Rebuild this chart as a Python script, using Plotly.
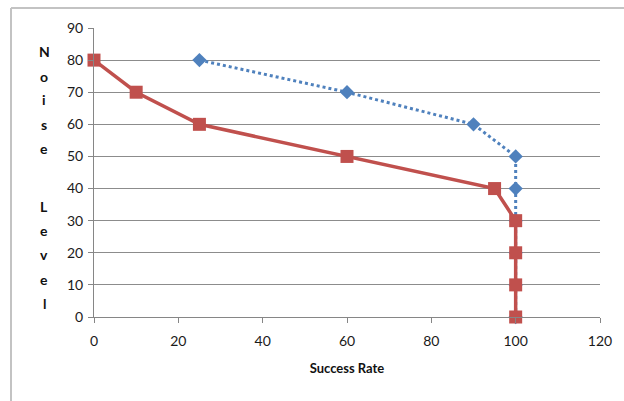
import plotly.graph_objects as go

# Noise level (y) against success rate (x) for two methods
noise_levels = [80, 70, 60, 50, 40, 30, 20, 10, 0]
rate_blue = [25, 60, 90, 100, 100, 100, 100, 100, 100]
rate_red = [0, 10, 25, 60, 95, 100, 100, 100, 100]

x_ticks = [0, 20, 40, 60, 80, 100, 120]
y_ticks = [0, 10, 20, 30, 40, 50, 60, 70, 80, 90]
y_title_letters = ["N", "o", "i", "s", "e", "", "L", "e", "v", "e", "l"]

W, H = 624, 401
L, R, T, B = 94, 24, 28, 84
plot_h = H - T - B
plot_w = W - L - R

fig = go.Figure()
fig.add_trace(go.Scatter(
    x=rate_blue, y=noise_levels, mode="lines+markers",
    line=dict(color="#4F81BD", width=3, dash="dot"),
    marker=dict(symbol="diamond", size=11, color="#4F81BD"),
    showlegend=False, cliponaxis=False,
))
fig.add_trace(go.Scatter(
    x=rate_red, y=noise_levels, mode="lines+markers",
    line=dict(color="#C0504D", width=3.5),
    marker=dict(symbol="square", size=13, color="#C0504D"),
    showlegend=False, cliponaxis=False,
))

font = dict(family="Lato, Open Sans, sans-serif", size=14, color="#1a1a1a")

fig.update_layout(
    width=W, height=H,
    margin=dict(l=L, r=R, t=T, b=B),
    paper_bgcolor="white", plot_bgcolor="white",
    font=font,
    xaxis=dict(
        range=[0, 120], tickvals=x_ticks, ticks="outside", ticklen=5,
        tickcolor="#868686", showline=True, linecolor="#868686", linewidth=1,
        showgrid=False, zeroline=False, ticklabelstandoff=6,
        title=dict(text="<b>Success Rate</b>", font=dict(size=13, family="Lato, sans-serif", color="#111111"), standoff=16),
    ),
    yaxis=dict(
        range=[0, 90], tickvals=y_ticks, ticks="outside", ticklen=5,
        tickcolor="#868686", showline=True, linecolor="#868686", linewidth=1,
        showgrid=True, gridcolor="#8c8c8c", gridwidth=1, zeroline=False,
        ticklabelstandoff=2,
    ),
)

# Vertical stacked axis title, one letter per row
letter_px = [51, 76, 99, 124, 148, None, 207, 230, 254, 279, 303]
for ch, py in zip(y_title_letters, letter_px):
    if not ch:
        continue
    fig.add_annotation(
        text=f"<b>{ch}</b>", xref="paper", yref="paper",
        x=(44 - L) / plot_w, y=(H - B - py) / plot_h,
        showarrow=False, xanchor="center", yanchor="middle",
        font=dict(size=14, family="Lato, sans-serif", color="#111111"),
    )

# Chart frame
frame = dict(color="#c3c3c3", width=2)
fig.add_shape(type="line", xref="paper", yref="paper",
              x0=(11 - L) / plot_w, x1=(11 - L) / plot_w,
              y0=(H - B - 8) / plot_h, y1=-B / plot_h - 0.1, line=frame)
fig.add_shape(type="line", xref="paper", yref="paper",
              x0=(11 - L) / plot_w, x1=1.2,
              y0=(H - B - 8) / plot_h, y1=(H - B - 8) / plot_h, line=frame)

fig.write_html("out.html")
